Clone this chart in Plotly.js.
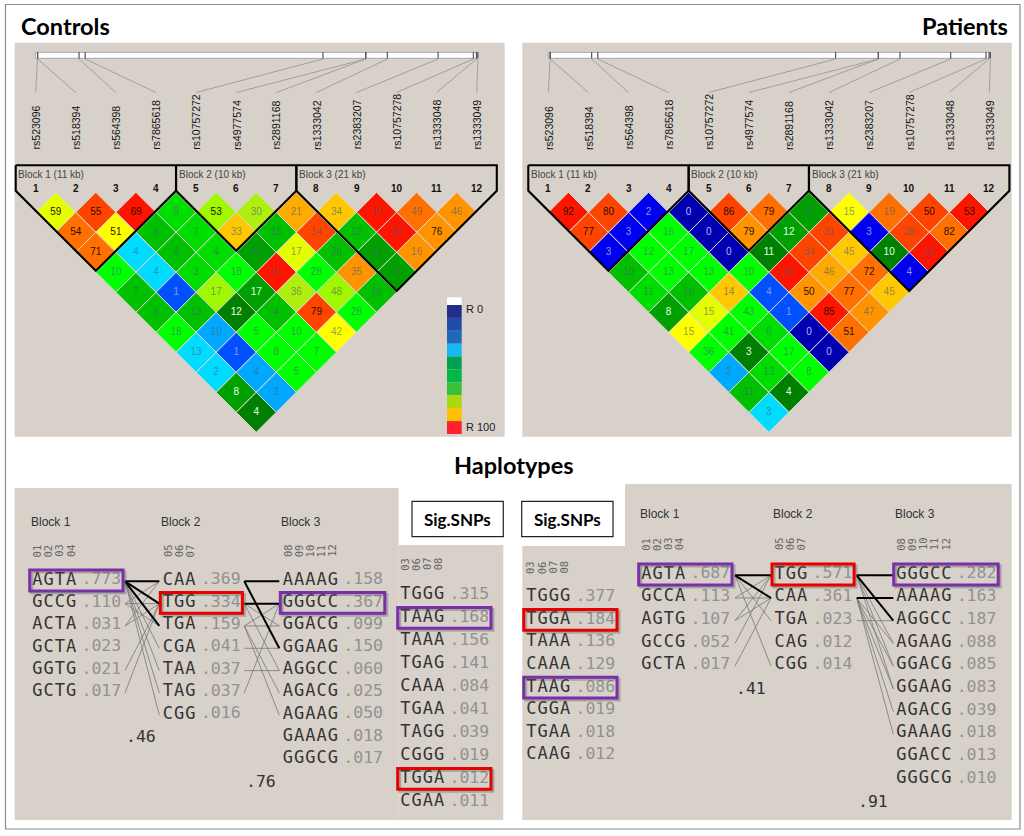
<!DOCTYPE html>
<html><head><meta charset="utf-8">
<script src="https://cdn.plot.ly/plotly-3.0.1.min.js"></script>
<style>html,body{margin:0;padding:0;background:#fff}#chart{width:1024px;height:836px}</style>
</head><body><div id="chart"></div>
<script>
// ---------- DATA ----------
const snpIds = ["rs523096","rs518394","rs564398","rs7865618","rs10757272","rs4977574","rs2891168","rs1333042","rs2383207","rs10757278","rs1333048","rs1333049"];
const snpMapFraction = [0.002,0.002,0.096,0.110,0.649,0.746,0.746,0.795,0.910,0.990,0.997,1.0];
const blockRanges = [[1,4],[5,7],[8,12]];
const controlsBlockNames = ["Block 1 (11 kb)","Block 2 (10 kb)","Block 3 (21 kb)"];

// r-squared by marker distance (row 0: neighbours, row 1: two apart, ...)
const controlsLD = [
 [59,55,69,9,53,30,21,34,19,49,46],
 [54,51,5,7,33,16,14,12,32,76],
 [71,4,4,4,13,17,20,14,16],
 [10,4,3,18,31,28,35,9],
 [7,1,17,17,36,48,19],
 [3,13,12,4,79,28],
 [18,10,5,10,42],
 [13,1,8,7],
 [2,4,5],
 [8,2],
 [4]];
const patientsLD = [
 [92,80,2,0,86,79,15,15,19,50,53],
 [77,3,16,0,79,12,31,3,38,82],
 [3,12,17,0,11,34,45,10,23],
 [10,13,13,10,36,46,72,4],
 [11,10,14,4,50,77,45],
 [8,15,43,1,85,47],
 [15,41,6,0,51],
 [36,3,17,0],
 [2,13,8],
 [11,4],
 [3]];
const controlsShade = ["yrRgLlAaROo","OYmgamrmRo","OCmgdymdo","GCgGRGod","mBLdlLm","mmDmrG","GSGGY","CBGG","CSG","dS","D"];
const patientsShade = ["RrNnrOdYOrR","rNGnodrNrO","NGGnDraDR","mGGGRAON","gmaBoOa","dyGBRo","YGgnO","GDGn","SgG","mD","C"];
const shadeColours = {Y:"#ffff00",y:"#e4ff00",L:"#a0f800",l:"#b0ee10",G:"#00ff00",g:"#00dd00",m:"#00c000",d:"#00a000",D:"#008000",
 C:"#00dcff",S:"#00a8ff",B:"#0050ff",N:"#0000f0",n:"#0000b0",R:"#ff1400",r:"#ff4400",O:"#ff7000",o:"#ff9400",A:"#ffaa00",a:"#ffc800"};
const legendColours = ["#232e8c","#1f4ca8","#2068b8","#16b8f0","#00a050","#00b848","#38c038","#acd810","#ffc000","#ff2030"];

const ctlBlock1 = ["AGTA","GCCG","ACTA","GCTA","GGTG","GCTG"];
const ctlBlock1Freq = [".773",".110",".031",".023",".021",".017"];
const ctlBlock2 = ["CAA","TGG","TGA","CGA","TAA","TAG","CGG"];
const ctlBlock2Freq = [".369",".334",".159",".041",".037",".037",".016"];
const ctlBlock3 = ["AAAAG","GGGCC","GGACG","GGAAG","AGGCC","AGACG","AGAAG","GAAAG","GGGCG"];
const ctlBlock3Freq = [".158",".367",".099",".150",".060",".025",".050",".018",".017"];
const ctlSig = ["TGGG","TAAG","TAAA","TGAG","CAAA","TGAA","TAGG","CGGG","TGGA","CGAA"];
const ctlSigFreq = [".315",".168",".156",".141",".084",".041",".039",".019",".012",".011"];
const patBlock1 = ["AGTA","GCCA","AGTG","GCCG","GCTA"];
const patBlock1Freq = [".687",".113",".107",".052",".017"];
const patBlock2 = ["TGG","CAA","TGA","CAG","CGG"];
const patBlock2Freq = [".571",".361",".023",".012",".014"];
const patBlock3 = ["GGGCC","AAAAG","AGGCC","AGAAG","GGACG","GGAAG","AGACG","GAAAG","GGACC","GGGCG"];
const patBlock3Freq = [".282",".163",".187",".088",".085",".083",".039",".018",".013",".010"];
const patSig = ["TGGG","TGGA","TAAA","CAAA","TAAG","CGGA","TGAA","CAAG"];
const patSigFreq = [".377",".184",".136",".129",".086",".019",".018",".012"];

const ctlLinks12Strong = [[0,0],[0,1],[0,2]];
const ctlLinks12Weak = [[0,3],[0,4],[0,5],[0,6],[1,0],[1,1],[1,2],[2,0],[2,1],[4,1],[5,1]];
const ctlLinks23Strong = [[0,0],[1,1],[0,3]];
const ctlLinks23Weak = [[1,2],[1,4],[2,1],[2,2],[2,5],[2,6],[3,3],[4,4],[5,1]];
const patLinks12Strong = [[0,0],[0,1]];
const patLinks12Weak = [[0,2],[0,4],[1,0],[1,1],[2,0],[2,1],[3,0],[4,1]];
const patLinks23Strong = [[0,0],[1,1],[0,2]];
const patLinks23Weak = [[0,3],[0,4],[0,5],[1,3],[1,4],[1,5],[1,6],[1,7],[2,2]];

// ---------- DRAWING ----------
const BG="#d7d1ca", PURPLE="#7a2fa8", RED="#e60000";
const shapes=[], annotations=[], traces=[];
const rect=(x0,y0,x1,y1,fill,line,w,layer)=>shapes.push({type:"rect",xref:"x",yref:"y",x0,y0,x1,y1,fillcolor:fill||"rgba(0,0,0,0)",line:{color:line||"rgba(0,0,0,0)",width:w||0},layer:layer||"below"});
const label=(x,y,text,o)=>annotations.push(Object.assign({xref:"x",yref:"y",x,y,text,showarrow:false,xanchor:"left",yanchor:"middle",borderpad:0,font:{family:"Liberation Sans",size:10,color:"#222"}},o||{}));
const seg=(xs,ys,x0,y0,x1,y1)=>{xs.push(x0,x1,null);ys.push(y0,y1,null);};

// frame and panels
rect(5.5,4.5,1020,829,"#fff","#8a8a8a",1.2);
rect(14.7,42.7,504.7,436.7,BG);
rect(522.3,42.7,1011.7,436.7,BG);
rect(14.7,488,398.7,820,BG);
rect(398.7,545,503.3,820,BG);
rect(522.3,546,625,820,BG);
rect(625,484,1011.7,820,BG);

function textColourFor(v,k){
  if(k==="n") return "#aebcff";
  if(k==="N"||k==="B") return "#8f95e0";
  if(k==="D"||(k==="d"&&v>=8&&v!==13&&v!==9&&v!==14&&v!==15)) return "#e6ffe6";
  if(v>=50) return "#2a1200";
  return "rgba(70,95,115,0.62)";
}
function ldPanel(x1,ld,shade){
  const step=40.1, top=212.3;
  const sx=i=>x1+i*step;
  const xs=[],ys=[],cols=[],txt=[],tc=[];
  ld.forEach((row,d)=>row.forEach((v,i)=>{
    const k=shade[d][i];
    xs.push((sx(i)+sx(i+d+1))/2); ys.push(top+d*20); cols.push(shadeColours[k]); txt.push(String(v)); tc.push(textColourFor(v,k));
  }));
  traces.push({type:"scatter",mode:"markers+text",x:xs,y:ys,text:txt,textposition:"middle center",hoverinfo:"skip",
    marker:{symbol:"diamond",size:40/1.3,color:cols,line:{color:"#dcd8d2",width:1}},
    textfont:{family:"Liberation Sans",size:10,color:tc}});
  // map bar and leaders
  const barL=sx(0), barR=sx(11);
  rect(barL,52.3,barR,58.3,"#fff","#a8a8a8",1,"below");
  const lx=[],ly=[],tx=[],ty=[];
  snpIds.forEach((id,i)=>{
    const m=barL+1+snpMapFraction[i]*(barR-barL);
    seg(lx,ly,m,59,sx(i),92.5);
    seg(tx,ty,m,52,m,58.5);
    label(sx(i),150.7,id,{textangle:-90,xanchor:"center",yanchor:"bottom",font:{family:"Liberation Sans",size:10.5,color:"#111"}});
    label(sx(i),188,String(i+1),{xanchor:"center",font:{family:"Liberation Sans",size:10,color:"#111",weight:"bold"}});
  });
  traces.push({type:"scatter",mode:"lines",x:lx,y:ly,hoverinfo:"skip",line:{color:"#9a9a9a",width:0.9}});
  traces.push({type:"scatter",mode:"lines",x:tx,y:ty,hoverinfo:"skip",line:{color:"#555",width:1.2}});
  // block outlines
  const bx=[],by=[];
  blockRanges.forEach(([a,b],n)=>{
    const L=sx(a-1)-20,R=sx(b-1)+20,apexX=(L+R)/2,sh=190.7,apexY=sh+(R-L)/2;
    bx.push(L,L,apexX,R,R,L,null); by.push(165.3,sh,apexY,sh,165.3,165.3,null);
    label(L+1.5,174.5,controlsBlockNames[n],{font:{family:"Liberation Sans",size:10,color:"#444"}});
  });
  traces.push({type:"scatter",mode:"lines",x:bx,y:by,hoverinfo:"skip",line:{color:"#000",width:2.1}});
}
ldPanel(35.7,controlsLD,controlsShade);
ldPanel(548.3,patientsLD,patientsShade);

// legend
const legTop=305, legStep=12.9;
rect(447,297.3,461.7,legTop,"#fff",null,0,"above");
legendColours.forEach((c,i)=>rect(447,legTop+i*legStep,461.7,legTop+(i+1)*legStep,c,null,0,"above"));
label(465,309.3,"R 0",{font:{family:"Liberation Sans",size:11,color:"#222"}});
label(465,426.7,"R 100",{font:{family:"Liberation Sans",size:11,color:"#222"}});

// haplotype columns
const ADV=11.2, GAP=4.5, FW=38;
function column(c){
  const n=c.hap[0].length;
  const ys=c.hap.map((_,i)=>c.y+i*c.dy);
  traces.push({type:"scatter",mode:"text",x:c.hap.map(()=>c.x-0.5),y:ys,textposition:"middle right",hoverinfo:"skip",
    text:c.hap.map(h=>'<span style="letter-spacing:1px">'+h+'</span>'),
    textfont:{family:"DejaVu Sans Mono",size:17,color:"#333"}});
  traces.push({type:"scatter",mode:"text",x:c.hap.map(()=>c.x+n*ADV+GAP-0.5),y:ys,textposition:"middle right",hoverinfo:"skip",
    text:c.freq,textfont:{family:"DejaVu Sans Mono",size:16.5,color:"#929292"}});
  c.snps.forEach((s,i)=>label(c.x+4+i*ADV,c.headY,s,{textangle:-90,xanchor:"center",yanchor:"middle",font:{family:"DejaVu Sans Mono",size:10.5,color:"#666"}}));
  if(c.title) label(c.x-3,c.titleY,c.title,{font:{family:"Liberation Sans",size:12,color:"#333"}});
  (c.boxes||[]).forEach(([row,col])=>{
    const x0=c.x-3,x1=c.x+n*ADV+GAP+FW+3,y0=ys[row]-10.2,y1=ys[row]+10.6;
    rect(x0+2,y0+2,x1+2,y1+2,null,"rgba(80,80,80,0.35)",3,"above");
    rect(x0,y0,x1,y1,null,col,3,"above");
  });
  return c;
}
function links(a,b,xL,xR,strong,weak){
  const tx=[],ty=[],sx=[],sy=[];
  const yA=i=>a.y+i*a.dy+1, yB=i=>b.y+i*b.dy+1;
  weak.forEach(([i,j])=>seg(tx,ty,xL,yA(i),xR,yB(j)));
  strong.forEach(([i,j])=>seg(sx,sy,xL,yA(i),xR,yB(j)));
  traces.push({type:"scatter",mode:"lines",x:tx,y:ty,hoverinfo:"skip",line:{color:"#777",width:0.8}});
  traces.push({type:"scatter",mode:"lines",x:sx,y:sy,hoverinfo:"skip",line:{color:"#000",width:2}});
}
const N1=["01","02","03","04"],N2=["05","06","07"],N3=["08","09","10","11","12"],NS=["03","06","07","08"];
const c1=column({x:32.7,y:580.3,dy:22.33,hap:ctlBlock1,freq:ctlBlock1Freq,snps:N1,headY:550.7,title:"Block 1",titleY:521.7,boxes:[[0,PURPLE]]});
const c2=column({x:163.3,y:580.3,dy:22.33,hap:ctlBlock2,freq:ctlBlock2Freq,snps:N2,headY:550.7,title:"Block 2",titleY:521.7,boxes:[[1,RED]]});
const c3=column({x:283.3,y:580.3,dy:22.33,hap:ctlBlock3,freq:ctlBlock3Freq,snps:N3,headY:550.7,title:"Block 3",titleY:521.7,boxes:[[1,PURPLE]]});
column({x:400.7,y:594.7,dy:23,hap:ctlSig,freq:ctlSigFreq,snps:NS,headY:564,boxes:[[1,PURPLE],[8,RED]]});
const p1=column({x:641.7,y:574.3,dy:22.7,hap:patBlock1,freq:patBlock1Freq,snps:N1,headY:544,title:"Block 1",titleY:514.3,boxes:[[0,PURPLE]]});
const p2=column({x:775,y:574.3,dy:22.7,hap:patBlock2,freq:patBlock2Freq,snps:N2,headY:544,title:"Block 2",titleY:514.3,boxes:[[0,RED]]});
const p3=column({x:896.7,y:574.3,dy:22.7,hap:patBlock3,freq:patBlock3Freq,snps:N3,headY:544,title:"Block 3",titleY:514.3,boxes:[[0,PURPLE]]});
column({x:526.7,y:597,dy:22.6,hap:patSig,freq:patSigFreq,snps:NS,headY:567.3,boxes:[[1,RED],[4,PURPLE]]});
links(c1,c2,125,159.3,ctlLinks12Strong,ctlLinks12Weak);
links(c2,c3,244.3,279.3,ctlLinks23Strong,ctlLinks23Weak);
links(p1,p2,735,771,patLinks12Strong,patLinks12Weak);
links(p2,p3,856.7,893.3,patLinks23Strong,patLinks23Weak);
const mono={family:"DejaVu Sans Mono",size:16.5,color:"#333"};
label(140.7,736.7,".46",{xanchor:"center",font:mono});
label(260.7,781.7,".76",{xanchor:"center",font:mono});
label(751,688.3,".41",{xanchor:"center",font:mono});
label(873.3,801.7,".91",{xanchor:"center",font:mono});

// headings
const head={family:"Lato",size:23.5,color:"#000",weight:"bold"};
label(20,26,"Controls",{font:head});
label(1009,26,"Patients",{xanchor:"right",font:head});
label(514,465,"Haplotypes",{xanchor:"center",font:head});
[[412,503.3],[521.7,613]].forEach(([a,b])=>{
  rect(a,501.3,b,536.7,"#fff","#222",1.2,"above");
  label((a+b)/2,519,"Sig.SNPs",{xanchor:"center",font:{family:"Lato",size:17,color:"#000",weight:"bold"}});
});

Plotly.newPlot("chart",traces,{
  width:1024,height:836,margin:{l:0,r:0,t:0,b:0},showlegend:false,paper_bgcolor:"#fff",plot_bgcolor:"#fff",
  xaxis:{range:[0,1024],visible:false,fixedrange:true},
  yaxis:{range:[836,0],visible:false,fixedrange:true},
  shapes,annotations
},{displayModeBar:false,staticPlot:true});
</script></body></html>
